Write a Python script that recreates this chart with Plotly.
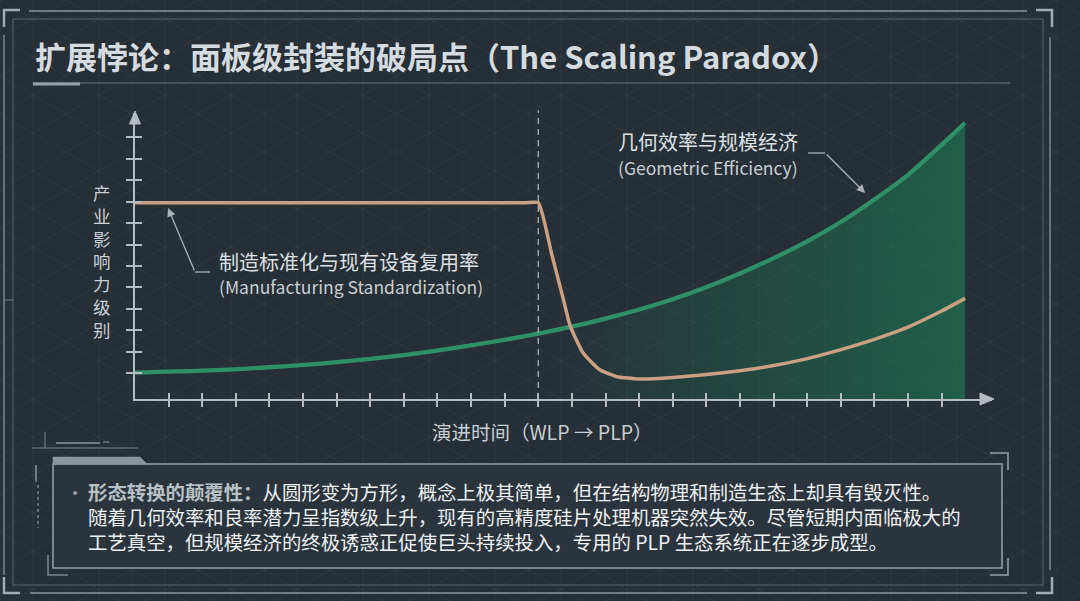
import base64
import plotly.graph_objects as go

# ---------------- data ----------------
time_green = [0, 2, 4, 6, 8, 10, 12, 14, 16, 18, 20, 21, 22, 23, 24, 24.7]
geometric_efficiency = [1.23, 1.32, 1.48, 1.72, 2.05, 2.5, 3.05, 3.75, 4.65, 5.85, 7.35, 8.25, 9.3, 10.45, 11.85, 12.88]

time_orange = [0, 4, 8, 11.6, 12, 12.4, 12.75, 12.95, 13.34, 13.84, 14.34, 15.0, 16.0, 17.0, 18.0, 19.0, 20.0, 21.0, 22.0, 23.0, 24.0, 24.7]
manufacturing_standardization = [9.15, 9.15, 9.15, 9.15, 9.15, 6.75, 4.62, 3.4, 2.13, 1.35, 1.04, 0.93, 1.0, 1.14, 1.32, 1.56, 1.88, 2.3, 2.78, 3.35, 4.1, 4.69]

x_tickvals = list(range(1, 25))
y_tickvals = [1.2, 2.2, 3.2, 4.2, 5.2, 6.2, 7.2, 8.2, 9.2, 10.2, 11.2, 12.2]
transition_time = 12

title_text = "扩展悖论：面板级封装的破局点（The Scaling Paradox）"
y_title = "产业影响力级别"
x_title = "演进时间（WLP → PLP）"
label_mfg = ["制造标准化与现有设备复用率", "(Manufacturing Standardization)"]
label_geo = ["几何效率与规模经济", "(Geometric Efficiency)"]
note_head = "形态转换的颠覆性："
note_lines = [
    "从圆形变为方形，概念上极其简单，但在结构物理和制造生态上却具有毁灭性。",
    "随着几何效率和良率潜力呈指数级上升，现有的高精度硅片处理机器突然失效。尽管短期内面临极大的",
    "工艺真空，但规模经济的终极诱惑正促使巨头持续投入，专用的 PLP 生态系统正在逐步成型。",
]

# ---------------- layout geometry ----------------
W, H = 1080, 601
ML, MR, MT, MB = 135, 88, 113, 202
PW, PH = W - ML - MR, H - MT - MB
BG = "#262e36"
FONT = "Noto Sans CJK SC"
GREEN = "#2f8f67"
TAN = "#caa083"
AXIS = "#b4bbc1"


def px(x):
    return (x - ML) / PW


def py(y):
    return (H - MB - y) / PH


fig = go.Figure()

# fill under green curve (gradient)
fig.add_trace(go.Scatter(
    x=time_green, y=geometric_efficiency, mode="lines",
    line=dict(width=0, shape="spline", smoothing=0.8),
    fill="tozeroy",
    fillgradient=dict(type="horizontal", start=transition_time, stop=time_green[-1],
                      colorscale=[[0, "rgba(30,120,82,0.0)"], [0.3, "rgba(30,120,82,0.22)"],
                                  [1, "rgba(28,125,84,0.62)"]]),
    hoverinfo="skip", showlegend=False,
))
fig.add_trace(go.Scatter(
    x=time_green, y=geometric_efficiency, mode="lines",
    line=dict(color=GREEN, width=4.3, shape="spline", smoothing=0.8),
    name="几何效率与规模经济", showlegend=False,
))
fig.add_trace(go.Scatter(
    x=time_orange, y=manufacturing_standardization, mode="lines",
    line=dict(color=TAN, width=3.5, shape="spline", smoothing=0.45),
    name="制造标准化与现有设备复用率", showlegend=False,
))
# carrier trace for the overlay axes (inside ticks)
fig.add_trace(go.Scatter(
    x=time_green, y=geometric_efficiency, xaxis="x2", yaxis="y2", mode="lines",
    line=dict(width=0), opacity=0, hoverinfo="skip", showlegend=False,
))

shapes = []
annotations = []


def line_px(x0, y0, x1, y1, color, width=1, dash=None):
    d = dict(type="line", xref="paper", yref="paper", x0=px(x0), y0=py(y0), x1=px(x1), y1=py(y1),
             line=dict(color=color, width=width), layer="above")
    if dash:
        d["line"]["dash"] = dash
    shapes.append(d)


def path_px(points, color, width=1.5, fill=None, close=False):
    p = "M " + " L ".join(f"{px(a):.5f},{py(b):.5f}" for a, b in points)
    if close:
        p += " Z"
    d = dict(type="path", xref="paper", yref="paper", path=p,
             line=dict(color=color, width=width), layer="above")
    if fill:
        d["fillcolor"] = fill
    shapes.append(d)


# frame decorations
line_px(29, 11, 1027, 11, "#8c959c", 1.5)
shapes.append(dict(type="rect", xref="paper", yref="paper", x0=px(13), y0=py(19), x1=px(1043), y1=py(585),
                   line=dict(color="#5d676f", width=1), layer="below"))
line_px(4, 35, 4, 575, "#7d868d", 1.5)
line_px(1050, 37, 1050, 570, "#7d868d", 1.5)
line_px(30, 593, 1027, 593, "#8c959c", 1.5)
line_px(4, 300, 13, 300, "#7d868d", 1)
path_px([(4, 27), (4, 10), (20, 10)], "#a3abb1", 2.5)
path_px([(1036, 10), (1052, 10), (1052, 27)], "#a3abb1", 2.5)
path_px([(4, 577), (4, 593), (20, 593)], "#a3abb1", 2.5)
path_px([(1036, 593), (1052, 593), (1052, 577)], "#a3abb1", 2.5)
# title underline
line_px(33, 83, 1010, 83, "#6f7981", 1)
line_px(33, 84, 80, 84, "#98a1a8", 3)
# bottom-left ornaments
line_px(32, 448, 138, 448, "#7d868d", 1)
line_px(56, 443, 100, 443, "#8c959c", 1.5)
line_px(103, 442, 109, 442, "#8c959c", 1)
line_px(45, 432, 45, 448, "#7d868d", 1)
line_px(36, 465, 36, 482, "#8c959c", 1.5)
line_px(38, 485, 38, 528, "#7d868d", 1.5, "dot")
path_px([(48, 555), (48, 575), (68, 575)], "#7d868d", 1.5)
# box
shapes.append(dict(type="rect", xref="paper", yref="paper", x0=px(53), y0=py(464), x1=px(1002), y1=py(568),
                   line=dict(color="#98a1a8", width=1.5), fillcolor="#2b343c", layer="below"))
path_px([(53, 464), (53, 457), (140, 457), (147, 464)], "#8c959c", 0.5, fill="#8c959c", close=True)
path_px([(990, 453), (1008, 453), (1008, 470)], "#98a1a8", 1.5)
path_px([(990, 575), (1008, 575), (1008, 558)], "#98a1a8", 1.5)

# dashed transition line
shapes.append(dict(type="line", xref="x", yref="paper", x0=transition_time, x1=transition_time, y0=0, y1=1.01,
                   line=dict(color="#a9b0b6", width=1.3, dash="6px,5px"), layer="above"))

# axis arrow heads
shapes.append(dict(type="path", xref="paper", yref="paper", xsizemode="pixel", ysizemode="pixel",
                   xanchor=px(994), yanchor=0, path="M 0,0 L -14,6 L -14,-6 Z",
                   fillcolor=AXIS, line=dict(color=AXIS, width=1)))
shapes.append(dict(type="path", xref="paper", yref="paper", xsizemode="pixel", ysizemode="pixel",
                   xanchor=0, yanchor=1, path="M 0,2 L -5.5,-11 L 5.5,-11 Z",
                   fillcolor=AXIS, line=dict(color=AXIS, width=1)))

# annotation leader lines
shapes.append(dict(type="line", xref="x", yref="y", x0=(210 - ML) / 33.6, y0=(399 - 272) / 21.45,
                   x1=(195 - ML) / 33.6, y1=(399 - 272) / 21.45, line=dict(color="#aab2b8", width=1.3)))
shapes.append(dict(type="line", xref="x", yref="y", x0=(808 - ML) / 33.6, y0=(399 - 153) / 21.45,
                   x1=(825 - ML) / 33.6, y1=(399 - 153) / 21.45, line=dict(color="#aab2b8", width=1.3)))
annotations.append(dict(xref="x", yref="y", axref="x", ayref="y",
                        x=(168 - ML) / 33.6, y=(399 - 208) / 21.45,
                        ax=(195 - ML) / 33.6, ay=(399 - 272) / 21.45,
                        text="", showarrow=True, arrowhead=2, arrowsize=1.3, arrowwidth=1.3, arrowcolor="#aab2b8"))
annotations.append(dict(xref="x", yref="y", axref="x", ayref="y",
                        x=(865 - ML) / 33.6, y=(399 - 193) / 21.45,
                        ax=(825 - ML) / 33.6, ay=(399 - 153) / 21.45,
                        text="", showarrow=True, arrowhead=2, arrowsize=1.3, arrowwidth=1.3, arrowcolor="#aab2b8"))


def text_px(x, y, text, size, color, xanchor="left", bold=False):
    t = f"<b>{text}</b>" if bold else text
    annotations.append(dict(xref="paper", yref="paper", x=px(x), y=py(y), text=t, showarrow=False,
                            xanchor=xanchor, yanchor="middle", font=dict(family=FONT, size=size, color=color)))


# title
text_px(33, 55, title_text, 31, "#d6dbdf", bold=True)
# axis titles (vertical, one character per row)
annotations.append(dict(xref="paper", yref="paper", x=px(102), y=py(261), text="<br>".join(y_title),
                        showarrow=False, xanchor="center", yanchor="middle", align="center",
                        font=dict(family=FONT, size=17.5, color="#c9ced3")))
text_px(542, 431, x_title, 19.5, "#c9ced3", xanchor="center")
# curve labels
text_px(217, 261, label_mfg[0], 20, "#dde1e4")
text_px(217, 286.5, label_mfg[1], 17.5, "#c9ced3")
text_px(708, 141, label_geo[0], 20, "#dde1e4", xanchor="center")
text_px(708, 167.5, label_geo[1], 17.5, "#c9ced3", xanchor="center")
# note box text (one multi-line block)
text_px(75, 492, "•", 18, "#9aa2a8", xanchor="center")
note_text = (f"<b><span style='color:#b9c0c5'>{note_head}</span></b>{note_lines[0]}<br>"
             f"{note_lines[1]}<br>{note_lines[2]}")
annotations.append(dict(xref="paper", yref="paper", x=px(86), y=py(516), text=note_text,
                        showarrow=False, xanchor="left", yanchor="middle", align="left",
                        font=dict(family=FONT, size=19.4, color="#eef0f2")))

# faint triangular grid background pattern
svg = (
    f"<svg xmlns='http://www.w3.org/2000/svg' width='{W}' height='{H}'>"
    "<defs><pattern id='p' width='66' height='38' patternUnits='userSpaceOnUse'>"
    "<g stroke='rgba(255,255,255,0.04)' stroke-width='1' fill='none'>"
    "<line x1='0' y1='0' x2='0' y2='38'/><line x1='33' y1='0' x2='33' y2='38'/>"
    "<line x1='0' y1='0' x2='66' y2='38'/><line x1='0' y1='38' x2='66' y2='0'/>"
    "</g></pattern></defs>"
    f"<rect width='{W}' height='{H}' fill='url(#p)'/></svg>"
)
src = "data:image/svg+xml;base64," + base64.b64encode(svg.encode()).decode()

axis_common = dict(showgrid=False, zeroline=False, showticklabels=False)
fig.update_layout(
    width=W, height=H, autosize=False,
    margin=dict(l=ML, r=MR, t=MT, b=MB, pad=0),
    paper_bgcolor=BG, plot_bgcolor="rgba(0,0,0,0)",
    xaxis=dict(range=[0, 25.5], showline=True, linecolor=AXIS, linewidth=2,
               ticks="outside", ticklen=6, tickwidth=1.5, tickcolor=AXIS, tickvals=x_tickvals, **axis_common),
    xaxis2=dict(range=[0, 25.5], overlaying="x", anchor="y", side="bottom", showline=False,
                ticks="inside", ticklen=6, tickwidth=1.5, tickcolor=AXIS, tickvals=x_tickvals, **axis_common),
    yaxis=dict(range=[0, PH / 21.45], showline=True, linecolor=AXIS, linewidth=2,
               ticks="outside", ticklen=7, tickwidth=1.5, tickcolor=AXIS, tickvals=y_tickvals, **axis_common),
    yaxis2=dict(range=[0, PH / 21.45], overlaying="y", anchor="x", side="left", showline=False,
                ticks="inside", ticklen=7, tickwidth=1.5, tickcolor=AXIS, tickvals=y_tickvals, **axis_common),
    shapes=shapes,
    annotations=annotations,
    images=[dict(source=src, xref="paper", yref="paper", x=px(0), y=py(0), sizex=W / PW, sizey=H / PH,
                 xanchor="left", yanchor="top", sizing="stretch", layer="below")],
    showlegend=False,
)

fig.write_html("out.html", config={"displayModeBar": False},
               post_script="document.body.style.margin='0';")
